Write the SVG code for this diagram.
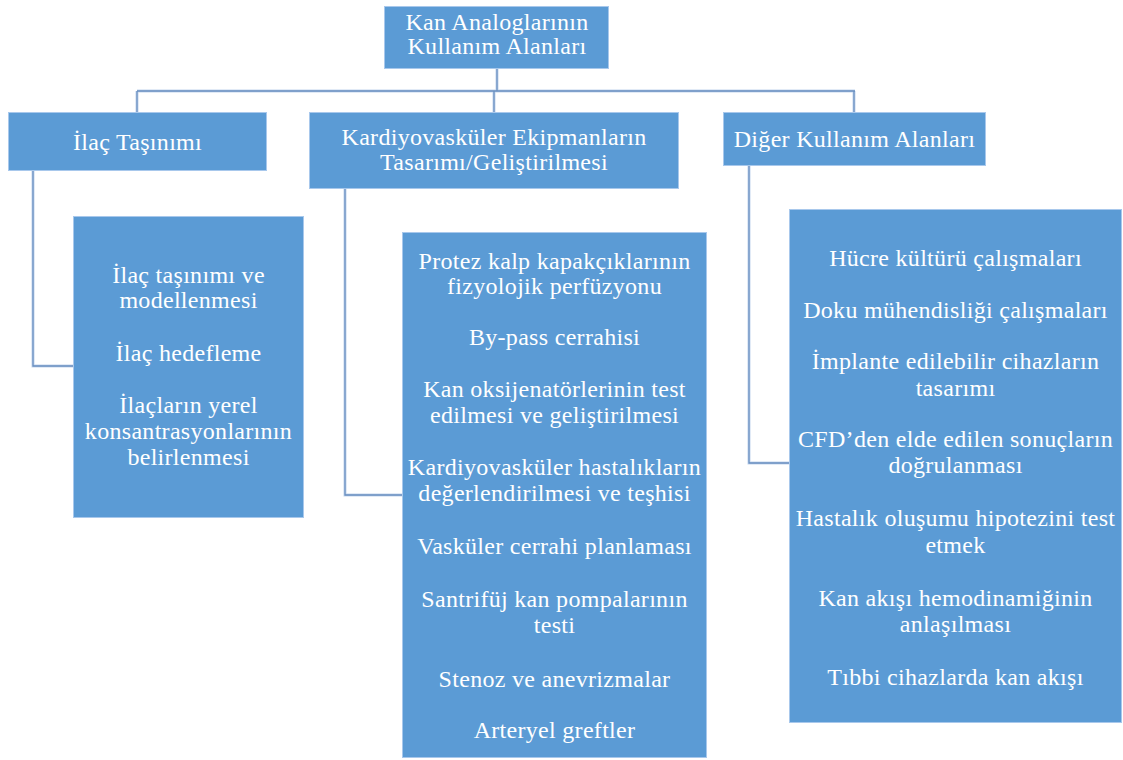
<svg xmlns="http://www.w3.org/2000/svg" width="1123" height="760" viewBox="0 0 1123 760">
  <style>
    .box { fill: #5b9bd5; stroke: #a8c8ec; stroke-width: 1; }
    .t { font-family: 'Liberation Serif', 'Tinos', 'DejaVu Serif', serif; font-size: 24px; fill: #ffffff; text-anchor: middle; letter-spacing: 0.3px; }
    .halo { fill: none; stroke: #c3d6ee; stroke-width: 3; }
    .ln { fill: none; stroke: #6a8fc0; stroke-width: 1.3; }
  </style>
  <rect width="1123" height="760" fill="#ffffff"/>

  <g id="connectors">
    <g class="halo">
      <path d="M497 69 V91 M137 91 H855 M137 91 V112 M494 91 V112 M854 91 V112"/>
      <path d="M33 171 V366 H73"/>
      <path d="M345 189 V495 H402"/>
      <path d="M749 166 V463 H789"/>
    </g>
    <g class="ln">
      <path d="M497 69 V91 M137 91 H855 M137 91 V112 M494 91 V112 M854 91 V112"/>
      <path d="M33 171 V366 H73"/>
      <path d="M345 189 V495 H402"/>
      <path d="M749 166 V463 H789"/>
    </g>
  </g>

  <g id="root">
    <rect class="box" x="384.5" y="6.5" width="224" height="62"/>
    <text class="t" x="497" y="30">Kan Analoglarının</text>
    <text class="t" x="497" y="54">Kullanım Alanları</text>
  </g>

  <g id="ilac">
    <rect class="box" x="8.5" y="112.5" width="258" height="58"/>
    <text class="t" x="137.5" y="150">İlaç Taşınımı</text>
  </g>

  <g id="kardiyo">
    <rect class="box" x="309.5" y="112.5" width="369" height="76"/>
    <text class="t" x="494" y="145">Kardiyovasküler Ekipmanların</text>
    <text class="t" x="494" y="170">Tasarımı/Geliştirilmesi</text>
  </g>

  <g id="diger">
    <rect class="box" x="723.5" y="112.5" width="262" height="53"/>
    <text class="t" x="854.5" y="147">Diğer Kullanım Alanları</text>
  </g>

  <g id="ilac-list">
    <rect class="box" x="73.5" y="216.5" width="230" height="301"/>
    <text class="t" x="188.5" y="283">İlaç taşınımı ve</text>
    <text class="t" x="188.5" y="308">modellenmesi</text>
    <text class="t" x="188.5" y="361">İlaç hedefleme</text>
    <text class="t" x="188.5" y="413">İlaçların yerel</text>
    <text class="t" x="188.5" y="439">konsantrasyonlarının</text>
    <text class="t" x="188.5" y="465">belirlenmesi</text>
  </g>

  <g id="kardiyo-list">
    <rect class="box" x="402.5" y="232.5" width="304" height="525"/>
    <text class="t" x="554.5" y="269">Protez kalp kapakçıklarının</text>
    <text class="t" x="554.5" y="294">fizyolojik perfüzyonu</text>
    <text class="t" x="554.5" y="345">By-pass cerrahisi</text>
    <text class="t" x="554.5" y="397">Kan oksijenatörlerinin test</text>
    <text class="t" x="554.5" y="423">edilmesi ve geliştirilmesi</text>
    <text class="t" x="554.5" y="475">Kardiyovasküler hastalıkların</text>
    <text class="t" x="554.5" y="501">değerlendirilmesi ve teşhisi</text>
    <text class="t" x="554.5" y="554">Vasküler cerrahi planlaması</text>
    <text class="t" x="554.5" y="607">Santrifüj kan pompalarının</text>
    <text class="t" x="554.5" y="633">testi</text>
    <text class="t" x="554.5" y="687">Stenoz ve anevrizmalar</text>
    <text class="t" x="554.5" y="738">Arteryel greftler</text>
  </g>

  <g id="diger-list">
    <rect class="box" x="789.5" y="209.5" width="332" height="513"/>
    <text class="t" x="955.5" y="266">Hücre kültürü çalışmaları</text>
    <text class="t" x="955.5" y="318">Doku mühendisliği çalışmaları</text>
    <text class="t" x="955.5" y="369">İmplante edilebilir cihazların</text>
    <text class="t" x="955.5" y="396">tasarımı</text>
    <text class="t" x="955.5" y="447">CFD’den elde edilen sonuçların</text>
    <text class="t" x="955.5" y="473">doğrulanması</text>
    <text class="t" x="955.5" y="526">Hastalık oluşumu hipotezini test</text>
    <text class="t" x="955.5" y="553">etmek</text>
    <text class="t" x="955.5" y="606">Kan akışı hemodinamiğinin</text>
    <text class="t" x="955.5" y="632">anlaşılması</text>
    <text class="t" x="955.5" y="685">Tıbbi cihazlarda kan akışı</text>
  </g>
</svg>
